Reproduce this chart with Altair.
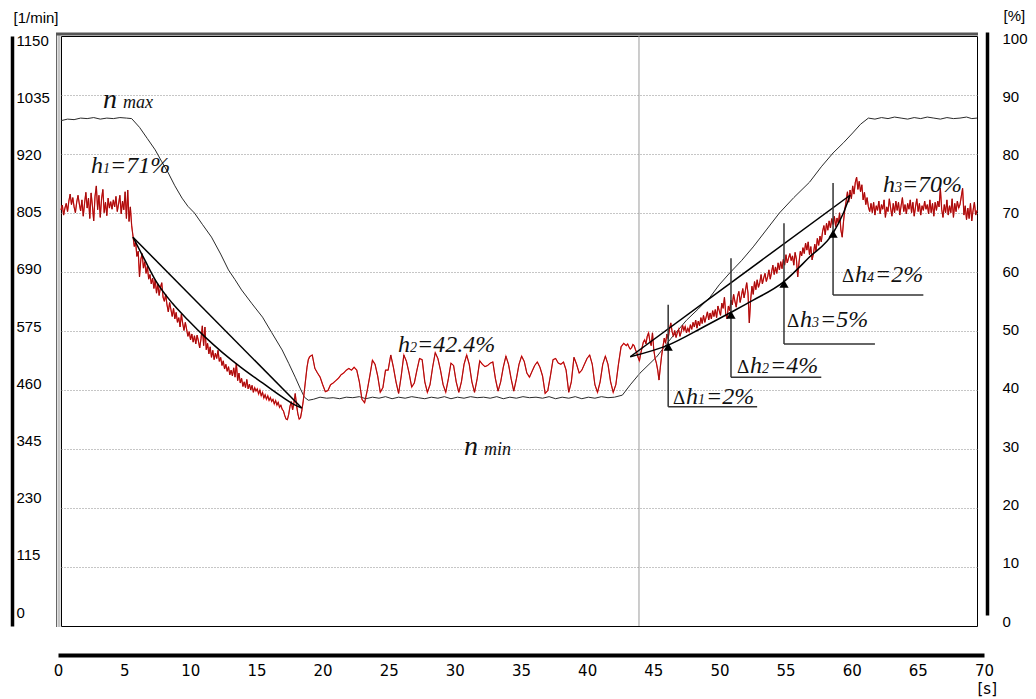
import altair as alt
import pandas as pd

# ---------------------------------------------------------------------------
# Relative opening h [%]
# 0.0 s .. 18.9 s, one sample every 0.1 s
H_A = [
    69.5, 70.3, 68.6, 69.8, 70.6, 69.2, 71.0, 72.2, 70.4, 71.6,
    70.0, 69.0, 70.8, 72.0, 70.5, 69.3, 71.2, 68.4, 70.6, 72.5,
    69.8, 71.5, 68.0, 72.4, 70.2, 67.6, 71.8, 73.6, 69.5, 72.0,
    68.2, 71.4, 73.0, 69.0, 70.8, 68.5, 71.5, 69.8, 70.9, 69.6,
    71.2, 70.0, 71.8, 69.2, 70.5, 72.0, 68.8, 71.0, 69.5, 72.6,
    68.0, 72.9, 67.5, 70.0, 66.8, 65.0, 63.2, 64.0, 61.5, 62.4,
    58.0, 61.0, 62.0, 59.5, 60.6, 58.6, 59.8, 57.6, 58.4, 56.8,
    57.8, 56.0, 57.5, 55.2, 56.8, 54.8, 56.2, 57.0, 54.5, 53.8,
    55.0, 53.2, 52.0, 53.6, 52.4, 51.2, 52.6, 50.8, 51.9, 50.2,
    51.0, 49.4, 51.6, 50.0, 48.8, 50.2, 49.0, 47.8, 48.6, 47.2,
    48.2, 46.8, 47.9, 46.5, 48.0, 47.0, 45.8, 47.4, 49.6, 46.2,
    49.4, 45.5, 46.6, 44.8, 46.0, 44.2, 45.4, 43.8, 44.9, 44.0,
    45.4, 43.5, 44.2, 42.8, 43.6, 42.2, 43.0, 41.8, 42.6, 41.2,
    42.0, 41.0, 42.4, 40.8, 43.2, 40.2, 41.5, 39.8, 40.6, 39.2,
    40.0, 39.0, 40.4, 38.8, 39.6, 38.6, 39.4, 38.2, 39.0, 38.4,
    38.8, 37.9, 38.6, 37.6, 38.2, 37.2, 37.8, 37.0, 37.6, 36.8,
    37.3, 36.6, 37.0, 36.2, 36.8, 36.0, 36.5, 35.6, 36.0, 35.3,
    35.0, 34.2, 33.6, 33.5, 34.4, 35.8, 36.6, 35.2, 36.4, 38.0,
    36.0, 34.5, 33.6, 33.8, 35.0, 36.5, 38.5, 40.5, 42.5, 43.8,
]
# 19.0 s .. 42.8 s, one sample every 0.2 s
H_B = [
    44.3, 44.6, 42.3, 41.5, 40.8,
    39.5, 38.3, 38.5, 39.5, 39.8,
    40.2, 40.6, 41.2, 41.5, 42.0,
    42.3, 42.0, 42.5, 42.0, 40.0,
    37.0, 36.4, 38.5, 41.0, 43.7,
    43.0, 41.0, 38.2, 39.0, 42.0,
    42.0, 44.6, 42.5, 40.0, 38.0,
    41.0, 44.6, 43.5, 41.5, 39.1,
    39.8, 42.0, 44.0, 43.8, 40.0,
    38.2, 39.5, 42.5, 45.0, 44.0,
    42.0, 39.5, 38.2, 40.5, 43.2,
    42.8, 40.0, 38.2, 40.0, 43.0,
    44.6, 43.0, 40.0, 38.2, 40.5,
    43.6, 43.0, 42.6, 42.8, 43.2,
    43.4, 40.5, 38.4, 40.0, 42.5,
    44.4, 43.0, 40.5, 38.4, 40.5,
    43.0, 44.4, 43.5, 41.5, 40.8,
    41.8, 42.8, 43.4, 42.5, 41.0,
    38.0, 38.5, 41.0, 43.8, 44.0,
    43.2, 43.0, 43.4, 42.0, 38.2,
    40.0, 44.2, 43.0, 41.5, 42.0,
    43.0, 44.0, 44.6, 43.0, 39.5,
    38.2, 40.0, 43.0, 44.4, 43.0,
    40.0, 38.2, 39.5, 43.0, 46.0,
]
# 43.0 s .. 70.0 s, one sample every 0.1 s
H_C = [
    46.6, 46.4, 46.2, 46.5, 46.0, 45.6, 45.8, 46.4, 46.2, 45.5,
    45.0, 44.2, 43.6, 44.8, 45.8, 46.8, 47.2, 46.5, 47.8, 48.4,
    47.0, 46.2, 48.4, 45.5, 44.0, 43.2, 42.0, 40.3, 42.5, 44.5,
    46.0, 47.5, 46.6, 48.2, 47.4, 49.0, 50.1, 48.6, 47.8, 48.8,
    47.6, 48.4, 49.0, 47.8, 48.6, 49.7, 48.8, 49.5, 48.4, 49.2,
    48.6, 49.8, 49.0, 50.2, 49.4, 50.6, 49.2, 50.4, 49.6, 51.0,
    50.0, 51.4, 50.2, 51.1, 52.0, 50.6, 51.8, 50.8, 52.2, 51.2,
    52.4, 51.0, 53.0, 52.2, 51.4, 53.5, 52.6, 54.5, 51.6, 50.8,
    53.0, 52.2, 54.0, 53.2, 55.0, 53.8, 52.8, 54.6, 55.5, 53.6,
    54.8, 56.0, 54.4, 55.6, 57.0, 55.2, 50.1, 54.0, 56.4, 55.0,
    57.2, 55.8, 57.5, 56.2, 57.0, 58.4, 56.8, 57.8, 58.6, 57.2,
    58.0, 59.2, 57.6, 58.8, 60.0, 58.4, 59.7, 58.6, 60.4, 59.2,
    60.6, 59.4, 61.0, 60.0, 61.8, 60.4, 61.2, 62.0, 60.8, 61.6,
    60.0, 62.2, 61.0, 58.0, 60.5, 62.4, 61.6, 63.0, 62.0, 63.8,
    62.6, 64.0, 61.8, 63.2, 60.9, 62.0, 63.6, 62.4, 64.6, 63.4,
    65.0, 64.0, 65.8, 66.8, 65.2, 67.2, 66.0, 67.6, 66.4, 68.0,
    67.0, 68.4, 66.6, 68.1, 67.2, 69.0, 66.0, 64.8, 67.5, 69.6,
    71.0, 72.6, 70.8, 72.9, 71.4, 73.6, 72.2, 74.2, 75.1, 73.0,
    74.4, 72.6, 73.8, 71.2, 72.5, 70.4, 71.6, 70.0, 69.2, 70.6,
    69.0, 70.8, 68.6, 70.2, 69.4, 71.0, 68.8, 70.4, 69.6, 71.2,
    68.2, 70.0, 69.2, 71.4, 69.8, 68.4, 70.6, 69.0, 71.0, 69.4,
    70.8, 68.6, 70.2, 71.6, 69.2, 70.4, 68.8, 70.6, 69.6, 71.2,
    69.0, 70.8, 68.4, 70.0, 71.4, 69.2, 70.6, 68.6, 70.2, 69.4,
    71.0, 69.6, 70.4, 68.8, 71.2, 69.0, 70.6, 68.4, 70.8, 69.4,
    71.0, 70.0, 73.2, 69.6, 68.2, 70.4, 69.0, 71.2, 68.6, 70.2,
    69.0, 71.4, 68.2, 70.6, 69.2, 71.0, 69.8, 70.4, 71.8, 73.2,
    68.6, 70.2, 67.8, 69.8, 68.0, 70.6, 67.6, 69.4, 70.8, 68.6,
    69.4,
]

# Engine speed n [1/min]
N_T = [
    0.0, 0.5, 1.0, 1.5, 2.0, 2.5, 3.0, 3.5, 4.0, 4.5, 5.0, 5.4,
    6.0, 6.6, 7.2, 7.7, 8.2, 8.7, 9.25, 9.7, 10.2, 10.8, 11.5, 12.2, 12.8,
    13.3, 13.8, 14.6, 15.4, 16.1, 16.9, 17.4, 17.9, 18.3, 18.6, 18.9, 19.3, 19.8,
    20.3, 20.8, 21.3, 21.8, 22.3, 22.8, 23.3, 23.8, 24.3, 24.8, 25.3, 25.8,
    26.3, 26.8, 27.3, 27.8, 28.3, 28.8, 29.3, 29.8, 30.3, 30.8, 31.3, 31.8,
    32.3, 32.8, 33.3, 33.8, 34.3, 34.8, 35.3, 35.8, 36.3, 36.8, 37.3, 37.8,
    38.3, 38.8, 39.3, 39.8, 40.3, 40.8, 41.3, 41.8, 42.3, 42.9,
    43.5, 44.25, 45.5, 46.6, 47.8, 48.7, 49.6, 50.3, 51.1, 52.0, 52.9, 53.9,
    54.9, 56.0, 57.2, 58.1, 59.0, 59.8, 60.5, 61.1, 61.7,
    62.2, 62.7, 63.2, 63.7, 64.2, 64.7, 65.2, 65.7, 66.2, 66.7, 67.2, 67.7,
    68.2, 68.7, 69.2, 69.6, 70.0,
]
N_RPM = [
    985, 988, 987, 990, 989, 991, 988, 990, 989, 991, 990, 989,
    972, 950, 928, 905, 883, 858, 834, 818, 805, 783, 758, 725, 694,
    675, 655, 628, 602, 572, 538, 512, 485, 462, 446, 440, 442, 446,
    444, 445, 443, 446, 445, 447, 443, 446, 444, 447, 443, 446,
    444, 447, 445, 443, 446, 444, 447, 443, 446, 444, 447, 445,
    446, 444, 447, 443, 446, 444, 447, 445, 446, 444, 447, 443,
    446, 444, 447, 443, 446, 444, 447, 445, 446, 450,
    470, 493, 524, 560, 596, 618, 641, 665, 688, 712, 739, 772,
    805, 835, 865, 895, 922, 942, 961, 978, 990,
    988, 991, 989, 992, 990, 988, 991, 989, 992, 990, 988, 991,
    989, 990, 992, 989, 990,
]

# Fitted transition curves and their chords [s, %]
DOWN_CURVE_T = [5.5, 6.4, 7.2, 8.5, 9.7, 11.0, 12.3, 13.8, 15.4, 16.9, 17.9, 18.4]
DOWN_CURVE_H = [64.8, 60.9, 57.5, 53.5, 50.6, 47.7, 45.1, 42.4, 39.8, 37.4, 36.0, 35.5]
UP_CURVE_T = [43.5, 46.4, 49.1, 51.1, 52.9, 55.2, 57.2, 59.0, 59.8, 60.3]
UP_CURVE_H = [44.3, 46.3, 49.4, 51.8, 54.0, 57.1, 61.4, 65.5, 69.0, 72.0]
CHORD_T0 = [5.5, 43.5]
CHORD_H0 = [64.8, 44.3]
CHORD_T1 = [18.4, 60.3]
CHORD_H1 = [35.5, 72.0]

# Step markers  Δh1 .. Δh4
DH_T = [46.4, 51.2, 55.25, 59.0]
DH_TOP = [53.2, 61.2, 67.2, 74.1]
DH_BOTTOM = [35.7, 40.8, 46.5, 54.9]
DH_END = [53.2, 58.1, 62.2, 65.9]
DH_ARROW = [46.0, 51.5, 56.8, 65.4]
DH_TEXT_T = [46.77, 51.66, 55.48, 59.68]
DH_TEXT_H = [36.2, 41.5, 49.4, 57.1]
DH_IDX = ["1", "2", "3", "4"]
DH_VALUE = ["=2%", "=4%", "=5%", "=2%"]

# Level labels h1 .. h3
H_LABEL_T = [2.29, 25.75, 62.81]
H_LABEL_H = [75.8, 45.1, 72.6]
H_IDX = ["1", "2", "3"]
H_VALUE = ["=71%", "=42.4%", "=70%"]

# Speed labels
N_LABEL_T = [3.21, 30.8]
N_LABEL_H = [87.0, 27.4]
N_LABEL_SUB = ["max", "min"]

CURSOR_T = [44.17]

TIME_TICKS = list(range(0, 71, 5))
RPM_TICKS = list(range(0, 1151, 115))
PCT_TICKS = list(range(0, 101, 10))

# ---------------------------------------------------------------------------
t_a = [round(0.1 * i, 2) for i in range(len(H_A))]
t_b = [round(19.0 + 0.2 * i, 2) for i in range(len(H_B))]
t_c = [round(43.0 + 0.1 * i, 2) for i in range(len(H_C))]
h_df = pd.DataFrame({"t": t_a + t_b + t_c, "h": H_A + H_B + H_C})
n_df = pd.DataFrame({"t": N_T, "n": N_RPM})

fit_df = pd.concat([
    pd.DataFrame({"t": DOWN_CURVE_T, "h": DOWN_CURVE_H, "seg": "down"}),
    pd.DataFrame({"t": UP_CURVE_T, "h": UP_CURVE_H, "seg": "up"}),
])
chord_df = pd.DataFrame({"t": CHORD_T0, "h": CHORD_H0, "t2": CHORD_T1, "h_end": CHORD_H1})
dh_df = pd.DataFrame({
    "t": DH_T, "top": DH_TOP, "bottom": DH_BOTTOM, "end": DH_END, "arrow": DH_ARROW,
})
dh_text_df = pd.DataFrame({
    "t": DH_TEXT_T, "h": DH_TEXT_H, "idx": DH_IDX, "val": DH_VALUE,
}).assign(delta="Δ", sym="h")
h_text_df = pd.DataFrame({
    "t": H_LABEL_T, "h": H_LABEL_H, "idx": H_IDX, "val": H_VALUE,
}).assign(sym="h")
n_text_df = pd.DataFrame({"t": N_LABEL_T, "h": N_LABEL_H, "sub": N_LABEL_SUB}).assign(sym="n")
cursor_df = pd.DataFrame({"t": CURSOR_T})

x_main = alt.Scale(domain=[0, 70], nice=False, zero=False)
rpm_scale = alt.Scale(domain=[0, 1150], nice=False, zero=False)
pct_scale = alt.Scale(domain=[0, 100], range=[579, -4], nice=False, zero=False)

GRID = dict(grid=True, gridColor="#8c8c8c", gridDash=[1, 2], gridWidth=1)
SANS = "Liberation Sans"
SERIF = "Liberation Serif"

X_NONE = alt.X("t:Q", scale=x_main, axis=None)
Y_PCT = alt.Y("h:Q", scale=pct_scale, axis=None)

# ---- speed group (left scale) ----------------------------------------------
frame_left = alt.Chart(cursor_df).mark_rule(color="#c4c4c4", strokeWidth=3).encode(
    x=alt.value(-2), y=alt.value(-3), y2=alt.value(591))
frame_left2 = alt.Chart(cursor_df).mark_rule(color="#666666", strokeWidth=1).encode(
    x=alt.value(-4.5), y=alt.value(-3), y2=alt.value(591))
frame_top = alt.Chart(cursor_df).mark_rule(color="#555555", strokeWidth=3).encode(
    x=alt.value(-5), x2=alt.value(917), y=alt.value(-2))

n_line = alt.Chart(n_df).mark_line(color="#2a2a2a", strokeWidth=1).encode(
    x=alt.X("t:Q", scale=x_main,
            axis=alt.Axis(values=TIME_TICKS[1:-1], labels=False, ticks=False,
                          domain=False, title=None, **GRID)),
    y=alt.Y("n:Q", scale=rpm_scale,
            axis=alt.Axis(orient="left", offset=49, values=RPM_TICKS[1:-1],
                          labels=False, ticks=False, tickSize=0, domain=True,
                          domainColor="black", domainWidth=3.5, title=None, **GRID)),
)
speed_group = alt.layer(frame_left2, frame_left, frame_top, n_line)

# labels of the speed axis
rpm_label_df = pd.DataFrame({"n": [0, 1150]})
rpm_labels = alt.Chart(rpm_label_df).mark_point(opacity=0).encode(
    y=alt.Y("n:Q", scale=alt.Scale(domain=[0, 1150], range=[576, 4], nice=False, zero=False),
            axis=alt.Axis(orient="left", offset=49, values=RPM_TICKS, format="d",
                          grid=False, ticks=False, tickSize=0, domain=False,
                          labelAlign="left", labelPadding=-4, labelFont=SANS,
                          labelFontSize=15, labelColor="black", labelOverlap=False,
                          title="[1/min]", titleAngle=0, titleAlign="left",
                          titleBaseline="alphabetic", titleX=1, titleY=-14,
                          titleFont=SANS, titleFontSize=15, titleFontWeight="normal",
                          titleColor="black")),
)

# percent axis on the right
pct_axis_df = pd.DataFrame({"h": [0, 100]})
pct_axis = alt.Chart(pct_axis_df).mark_point(opacity=0).encode(
    y=alt.Y("h:Q", scale=alt.Scale(domain=[0, 100], range=[579, -4], nice=False, zero=False),
            axis=alt.Axis(orient="right", offset=10, values=PCT_TICKS, format="d",
                          grid=False, ticks=False, tickSize=0, domain=True,
                          domainColor="black", domainWidth=3.5, labelPadding=15,
                          labelOffset=6, labelFont=SANS, labelFontSize=15,
                          labelColor="black", labelOverlap=False, title="[%]",
                          titleAngle=0, titleAlign="left", titleBaseline="alphabetic",
                          titleX=16, titleY=-16, titleFont=SANS, titleFontSize=15,
                          titleFontWeight="normal", titleColor="black")),
)

# ---- opening group (right scale) -------------------------------------------
cursor = alt.Chart(cursor_df).mark_rule(color="#9a9a9a", strokeWidth=1).encode(x=X_NONE)

h_bright = alt.Chart(h_df).mark_line(color="#ff2020", strokeWidth=1.2).encode(x=X_NONE, y=Y_PCT)
h_dark = alt.Chart(h_df).mark_line(color="#8b0a0a", strokeWidth=0.8).encode(x=X_NONE, y=Y_PCT)

fit_curves = alt.Chart(fit_df).mark_line(color="black", strokeWidth=1.5,
                                         interpolate="monotone").encode(
    x=X_NONE, y=Y_PCT, detail="seg:N")
chords = alt.Chart(chord_df).mark_rule(color="black", strokeWidth=1.5).encode(
    x=X_NONE, y=Y_PCT, x2="t2:Q", y2="h_end:Q")

dh_vertical = alt.Chart(dh_df).mark_rule(color="#333333", strokeWidth=1.5).encode(
    x=X_NONE, y=alt.Y("top:Q", scale=pct_scale, axis=None), y2="bottom:Q")
dh_under = alt.Chart(dh_df).mark_rule(color="#333333", strokeWidth=1.5).encode(
    x=X_NONE, x2="end:Q", y=alt.Y("bottom:Q", scale=pct_scale, axis=None))
dh_arrows = alt.Chart(dh_df).mark_point(shape="triangle-up", filled=True, size=85,
                                        color="black", opacity=1).encode(
    x=X_NONE, y=alt.Y("arrow:Q", scale=pct_scale, axis=None))


def piece(df, field, size, dx, italic=True):
    return alt.Chart(df).mark_text(
        align="left", baseline="alphabetic", font=SERIF,
        fontStyle="italic" if italic else "normal", fontSize=size, dx=dx,
        color="#111111",
    ).encode(x=X_NONE, y=Y_PCT, text=f"{field}:N")


texts = [
    piece(h_text_df, "sym", 24, 0),
    piece(h_text_df, "idx", 14, 12),
    piece(h_text_df, "val", 24, 19),
    piece(dh_text_df, "delta", 19, 0, italic=False),
    piece(dh_text_df, "sym", 24, 13),
    piece(dh_text_df, "idx", 14, 25),
    piece(dh_text_df, "val", 24, 33),
    piece(n_text_df, "sym", 28, 0),
    piece(n_text_df, "sub", 18, 20),
]

opening_group = alt.layer(cursor, h_bright, h_dark, fit_curves, chords,
                          dh_vertical, dh_under, dh_arrows, *texts)

plot = alt.layer(speed_group, opening_group, rpm_labels, pct_axis).resolve_scale(
    y="independent")

# ---- time axis below the plot ----------------------------------------------
time_df = pd.DataFrame({"t": [0, 70]})
time_axis = alt.Chart(time_df).mark_point(opacity=0).encode(
    x=alt.X("t:Q", scale=alt.Scale(domain=[0, 70], range=[-3, 923], nice=False, zero=False),
            axis=alt.Axis(orient="bottom", offset=29, values=TIME_TICKS, grid=False,
                          domain=True, domainColor="black", domainWidth=4,
                          ticks=False, tickSize=0, labelPadding=8,
                          labelFont="DejaVu Sans", labelFontSize=15,
                          labelColor="black", labelFlush=False, labelOverlap=False,
                          title="[s]", titleX=916, titleY=38, titleAlign="left",
                          titleBaseline="alphabetic", titleFont="DejaVu Sans",
                          titleFontSize=15, titleFontWeight="normal",
                          titleColor="black")),
)

chart = alt.layer(plot, time_axis).resolve_scale(
    x="independent", y="independent"
).properties(
    width=916, height=590,
    autosize=alt.AutoSizeParams(type="none"),
    padding={"left": 61, "top": 36, "right": 59, "bottom": 73},
    background="white",
).configure_view(stroke="black", strokeWidth=1)

chart.save("out.html", embed_options={"renderer": "svg", "actions": False})
